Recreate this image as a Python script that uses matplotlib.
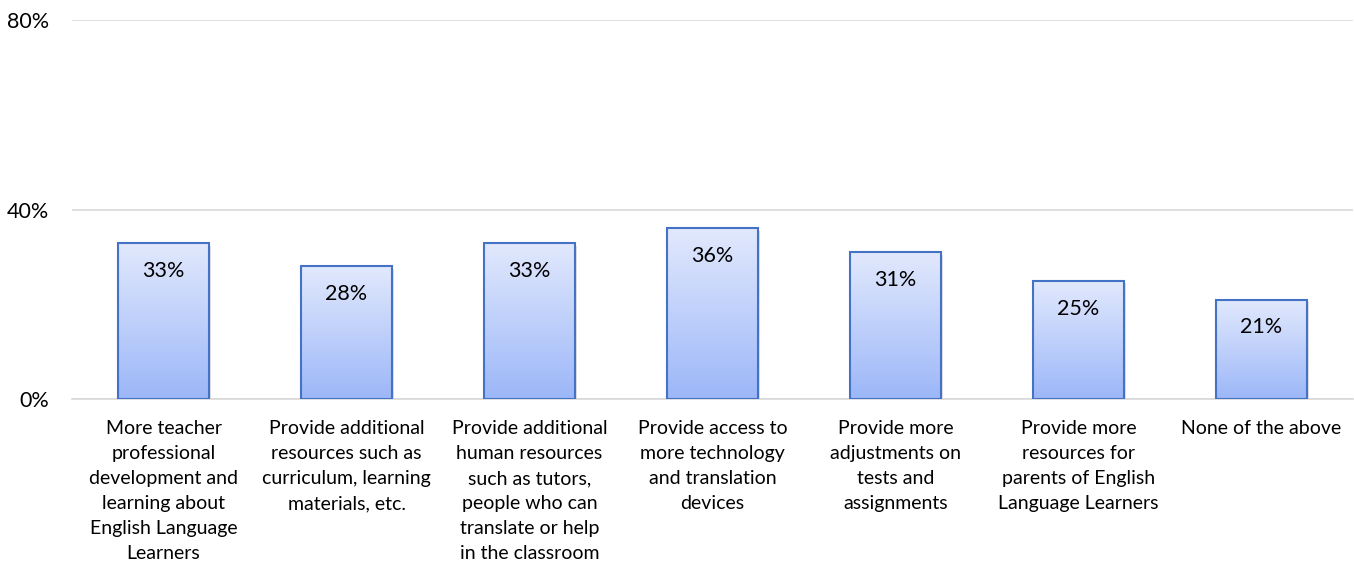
import numpy as np
import matplotlib
matplotlib.use("Agg")
import matplotlib.pyplot as plt
from matplotlib.patches import Rectangle

plt.rcParams['font.family'] = ['Lato', 'DejaVu Sans']

# Survey answers and share of respondents
categories = [
    "More teacher\nprofessional\ndevelopment and\nlearning about\nEnglish Language\nLearners",
    "Provide additional\nresources such as\ncurriculum, learning\nmaterials, etc.",
    "Provide additional\nhuman resources\nsuch as tutors,\npeople who can\ntranslate or help\nin the classroom",
    "Provide access to\nmore technology\nand translation\ndevices",
    "Provide more\nadjustments on\ntests and\nassignments",
    "Provide more\nresources for\nparents of English\nLanguage Learners",
    "None of the above",
]
values = [33, 28, 33, 36, 31, 25, 21]
y_ticks = [0, 40, 80]

fig = plt.figure(figsize=(13.54, 5.67), dpi=100)
ax = fig.add_axes([72 / 1354, 1 - 399 / 567, (1353 - 72) / 1354, (399 - 20) / 567])

x = np.arange(len(values))
width = 0.5
ax.set_xlim(-0.5, len(values) - 0.5)
ax.set_ylim(0, 80)

# vertical gradient: light at top, deeper blue at the base
top_col = np.array([0xE2, 0xE9, 0xFD]) / 255
bot_col = np.array([0x9C, 0xB7, 0xF8]) / 255
t = np.linspace(0, 1, 256)[:, None]
grad = (top_col[None, :] * (1 - t) + bot_col[None, :] * t)[:, None, :]

for xi, v in zip(x, values):
    # soft shadow behind each bar
    shadow = Rectangle((xi - width / 2 + 0.012, -0.6), width, v, facecolor='#000000',
                       alpha=0.12, edgecolor='none', zorder=2)
    ax.add_patch(shadow)
    rect = Rectangle((xi - width / 2, 0), width, v, facecolor='none',
                     edgecolor='#4472C4', linewidth=1.5, zorder=4)
    ax.add_patch(rect)
    im = ax.imshow(grad, extent=(xi - width / 2, xi + width / 2, 0, v),
                   aspect='auto', zorder=3, origin='upper')
    im.set_clip_path(rect)
    ax.text(xi, v - 5.9, f"{v}%", ha='center', va='center', fontsize=15.5,
            color='#000000', zorder=5)

ax.set_yticks(y_ticks)
ax.set_yticklabels([f"{v}%" for v in y_ticks], fontsize=15.5)
ax.yaxis.grid(True, color='#D9D9D9', linewidth=1.2)
ax.set_axisbelow(True)
ax.tick_params(axis='y', length=0, pad=16.5)

ax.set_xticks(x)
ax.set_xticklabels(categories, fontsize=14, linespacing=1.58)
ax.tick_params(axis='x', length=0, pad=15)

for s in ['left', 'right', 'top']:
    ax.spines[s].set_visible(False)
ax.spines['bottom'].set_color('#D9D9D9')
ax.spines['bottom'].set_linewidth(1.2)

fig.savefig("out.png", dpi=100)
